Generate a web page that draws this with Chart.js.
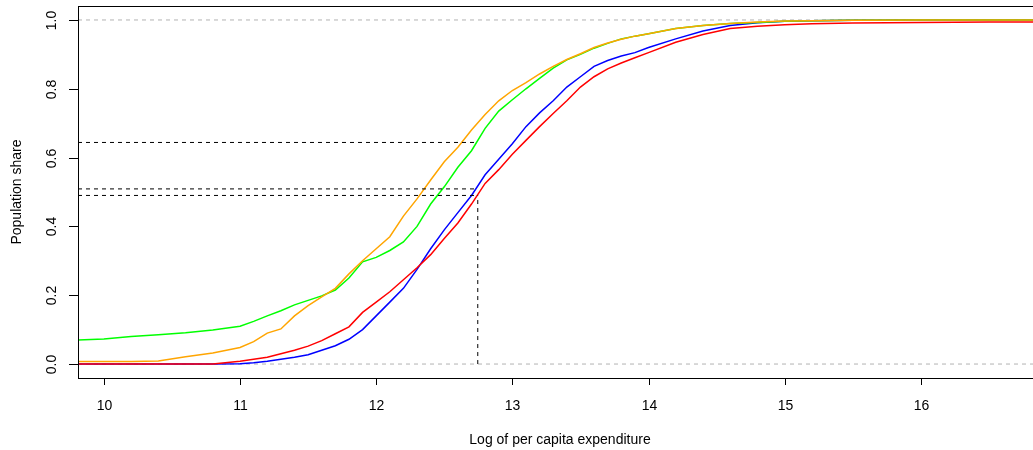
<!DOCTYPE html>
<html>
<head>
<meta charset="utf-8">
<script src="https://cdn.jsdelivr.net/npm/chart.js@4.4.1/dist/chart.umd.min.js"></script>
<style>
html,body{margin:0;padding:0;background:#fff;overflow:hidden;}
#wrap{width:1045px;height:450px;}
</style>
</head>
<body>
<div id="wrap"><canvas id="c" width="1045" height="450"></canvas></div>
<script>
// ---- data ----
const xGrid = [9.81,10.0,10.2,10.4,10.6,10.8,11.0,11.1,11.2,11.3,11.4,11.5,11.6,11.7,11.8,11.9,12.0,12.1,12.2,12.3,12.4,12.5,12.6,12.7,12.8,12.9,13.0,13.1,13.2,13.3,13.4,13.5,13.6,13.7,13.8,13.9,14.0,14.2,14.4,14.6,14.8,15.0,15.2,15.5,16.0,16.5,16.89];
const greenShare  = [0.070,0.073,0.080,0.085,0.091,0.099,0.110,0.124,0.140,0.155,0.172,0.185,0.198,0.215,0.250,0.297,0.310,0.330,0.355,0.400,0.465,0.515,0.572,0.620,0.685,0.735,0.768,0.800,0.830,0.860,0.884,0.900,0.918,0.932,0.945,0.953,0.960,0.975,0.984,0.990,0.993,0.996,0.998,0.999,1.000,1.000,1.000];
const orangeShare = [0.007,0.007,0.007,0.009,0.021,0.032,0.048,0.065,0.090,0.102,0.140,0.170,0.195,0.220,0.262,0.300,0.335,0.370,0.430,0.480,0.535,0.588,0.630,0.680,0.725,0.765,0.795,0.818,0.843,0.865,0.885,0.902,0.920,0.933,0.944,0.953,0.960,0.975,0.984,0.990,0.994,0.997,0.998,0.999,1.000,1.000,1.000];
const blueShare   = [0.000,0.000,0.000,0.000,0.000,0.000,0.001,0.004,0.008,0.014,0.020,0.027,0.040,0.053,0.072,0.100,0.140,0.180,0.220,0.275,0.335,0.390,0.440,0.490,0.550,0.595,0.640,0.690,0.730,0.765,0.805,0.835,0.865,0.882,0.895,0.905,0.920,0.945,0.968,0.984,0.992,0.996,0.998,0.999,1.000,1.000,1.000];
const redShare    = [0.000,0.000,0.000,0.000,0.000,0.000,0.008,0.014,0.020,0.030,0.040,0.052,0.068,0.088,0.108,0.150,0.180,0.210,0.245,0.280,0.318,0.365,0.410,0.465,0.525,0.565,0.610,0.650,0.690,0.728,0.765,0.805,0.835,0.858,0.875,0.890,0.905,0.935,0.958,0.975,0.982,0.986,0.989,0.991,0.993,0.994,0.994];
const xTicks = [10,11,12,13,14,15,16];
const yTicks = [0,0.2,0.4,0.6,0.8,1.0];
const yTickLabels = ["0.0","0.2","0.4","0.6","0.8","1.0"];
const markLevels = [0.644,0.509,0.490];   // black dashed horizontal guides
const markX = 12.746;                      // black dashed vertical guide
const xRange = [9.81, 16.89];
const yRange = [-0.0406, 1.0406];
const xTitle = "Log of per capita expenditure";
const yTitle = "Population share";

const FONT = '14px "Liberation Sans", Arial, sans-serif';

function pts(ys){ return xGrid.map((x,i)=>({x:x,y:ys[i]})); }
function curve(label, ys, color, order){
  return {label:label, data:pts(ys), borderColor:color, borderWidth:1.5, pointRadius:0, showLine:true, fill:false, tension:0, order:order};
}
function guide(data, color, order){
  return {data:data, borderColor:color, borderWidth:1, borderDash:[4,4], pointRadius:0, showLine:true, fill:false, tension:0, order:order};
}

const datasets = [
  guide([{x:markX,y:0},{x:markX,y:markLevels[2]}], '#000', 0),
  ...markLevels.map(v=>guide([{x:xRange[0],y:v},{x:markX,y:v}], '#000', 0)),
  curve('orange', orangeShare, '#FFA500', 1),
  curve('green', greenShare, '#00FF00', 2),
  curve('red', redShare, '#FF0000', 3),
  curve('blue', blueShare, '#0000FF', 4),
  guide([{x:xRange[0],y:0},{x:xRange[1],y:0}], '#B3B3B3', 5),
  guide([{x:xRange[0],y:1},{x:xRange[1],y:1}], '#B3B3B3', 5)
];

const rAxes = {
  id:'rAxes',
  afterDraw(chart){
    const ctx = chart.ctx, a = chart.chartArea;
    const xs = chart.scales.x, ys = chart.scales.y;
    ctx.save();
    ctx.strokeStyle = '#000'; ctx.lineWidth = 1; ctx.setLineDash([]);
    ctx.strokeRect(Math.round(a.left)+0.5, Math.round(a.top)+0.5, Math.round(a.right-a.left), Math.round(a.bottom-a.top));
    ctx.fillStyle = '#000'; ctx.font = FONT;
    // x axis ticks and labels
    ctx.textAlign = 'center'; ctx.textBaseline = 'middle';
    xTicks.forEach(v=>{
      const px = Math.round(xs.getPixelForValue(v))+0.5;
      ctx.beginPath(); ctx.moveTo(px, a.bottom); ctx.lineTo(px, a.bottom+7); ctx.stroke();
      ctx.fillText(String(v), px, a.bottom+28);
    });
    // y axis ticks and labels (rotated like R las=0)
    yTicks.forEach((v,i)=>{
      const py = Math.round(ys.getPixelForValue(v))+0.5;
      ctx.beginPath(); ctx.moveTo(a.left-9, py); ctx.lineTo(a.left, py); ctx.stroke();
      ctx.save(); ctx.translate(a.left-26, py); ctx.rotate(-Math.PI/2);
      ctx.fillText(yTickLabels[i], 0, 0); ctx.restore();
    });
    // titles
    ctx.fillText(xTitle, (a.left + a.right)/2, a.bottom+62);
    ctx.save(); ctx.translate(17, (a.top+a.bottom)/2); ctx.rotate(-Math.PI/2);
    ctx.fillText(yTitle, 0, 0); ctx.restore();
    ctx.restore();
  }
};

new Chart(document.getElementById('c'), {
  type:'scatter',
  data:{datasets:datasets},
  options:{
    responsive:false, animation:false,
    layout:{padding:{left:78, top:6, right:3, bottom:72}},
    plugins:{legend:{display:false}, tooltip:{enabled:false}},
    scales:{
      x:{type:'linear', display:false, min:xRange[0], max:xRange[1]},
      y:{type:'linear', display:false, min:yRange[0], max:yRange[1]}
    }
  },
  plugins:[rAxes]
});
</script>
</body>
</html>
